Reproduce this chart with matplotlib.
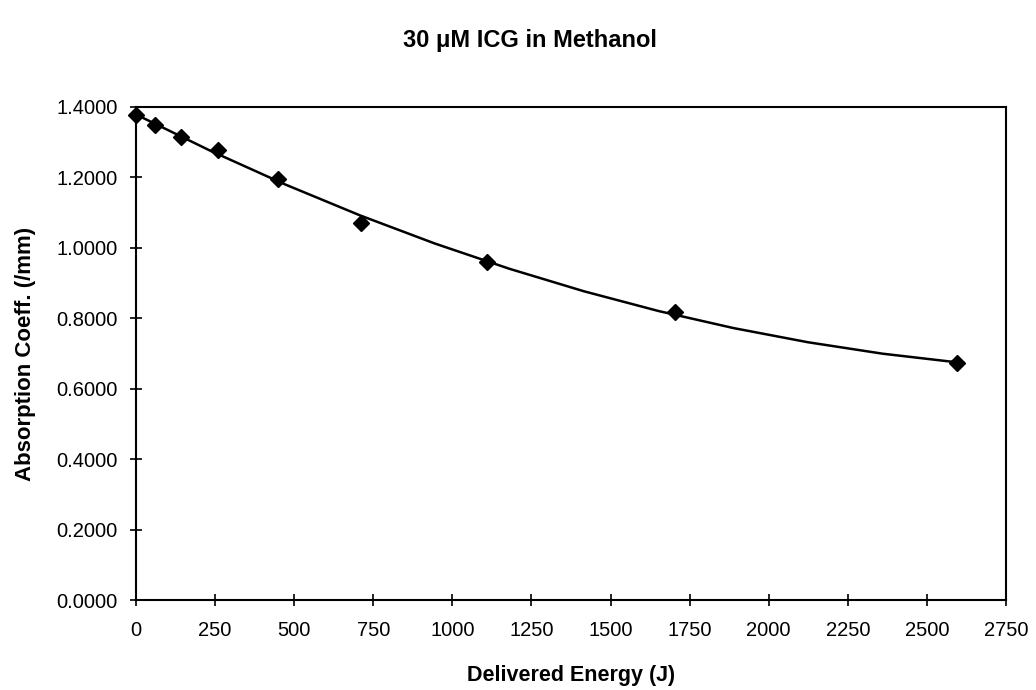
import numpy as np
import matplotlib.pyplot as plt
from matplotlib.ticker import FormatStrFormatter

# absorption measurements vs delivered energy
energy = [0, 60, 142, 259, 448, 710, 1110, 1703, 2596]
absorption = [1.377, 1.349, 1.315, 1.278, 1.196, 1.071, 0.961, 0.819, 0.672]

x_ticks = [0, 250, 500, 750, 1000, 1250, 1500, 1750, 2000, 2250, 2500, 2750]
y_ticks = [0.0, 0.2, 0.4, 0.6, 0.8, 1.0, 1.2, 1.4]

plt.rcParams['font.family'] = ['Liberation Sans', 'DejaVu Sans']

fig = plt.figure(figsize=(10.36, 6.9), dpi=100)
ax = fig.add_axes([136 / 1036, 1 - 600 / 690, (1006 - 136) / 1036, (600 - 107) / 690])

# polynomial trendline over the data range
coef = np.polyfit(energy, absorption, 2)
xs = np.linspace(min(energy), max(energy), 12)
ax.plot(xs, np.polyval(coef, xs), color='black', lw=1.8)
ax.plot(energy, absorption, linestyle='none', marker='D', ms=8, color='black',
        clip_on=False, zorder=3)

ax.set_xlim(0, 2750)
ax.set_ylim(0, 1.4)
ax.set_xticks(x_ticks)
ax.set_yticks(y_ticks)
ax.yaxis.set_major_formatter(FormatStrFormatter('%.4f'))
ax.tick_params(direction='inout', length=8, width=1.2, labelsize=14.5, pad=9, colors='black')
ax.tick_params(axis='x', pad=11)
for s in ax.spines.values():
    s.set_linewidth(1.5)

ax.set_xlabel('Delivered Energy (J)', fontsize=15.5, fontweight='bold', labelpad=18)
ax.set_ylabel('Absorption Coeff. (/mm)', fontsize=16, fontweight='bold', labelpad=15)
fig.text(0.512, 0.942, '30 \u03bcM ICG in Methanol', ha='center', va='center',
         fontsize=17, fontweight='bold')

fig.savefig('out.png', dpi=100, facecolor='white')
